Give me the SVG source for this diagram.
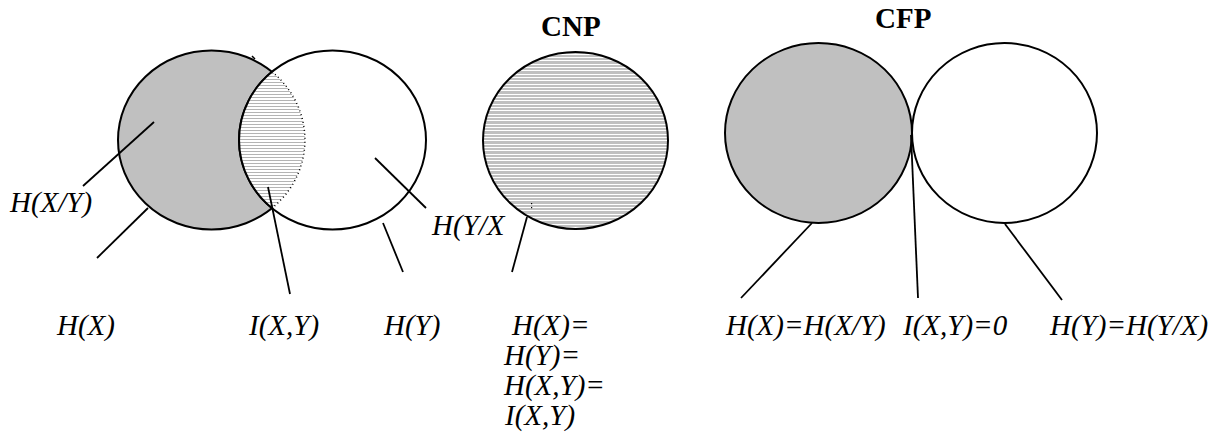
<svg xmlns="http://www.w3.org/2000/svg" width="1218" height="443" viewBox="0 0 1218 443">
<style>
.c{stroke:#000;stroke-width:2;}
.ln{stroke:#000;stroke-width:1.8;fill:none;}
.lb{font-family:"Liberation Serif","Times New Roman",serif;font-style:italic;font-size:29px;fill:#000;}
.tt{font-family:"Liberation Serif","Times New Roman",serif;font-weight:bold;font-size:29px;fill:#000;}
</style>
<defs>
<pattern id="hLens" patternUnits="userSpaceOnUse" width="20" height="3">
<rect x="0" y="0" width="20" height="3" fill="#fff"/>
<rect x="0" y="1" width="20" height="1" fill="#b4b4b4"/>
</pattern>
<pattern id="hCnp" patternUnits="userSpaceOnUse" width="20" height="10">
<rect x="0" y="0" width="20" height="10" fill="#c0c0c0"/>
<rect x="0" y="0" width="20" height="1" fill="#fff"/>
<rect x="0" y="4" width="20" height="1" fill="#fff"/>
<rect x="0" y="7" width="20" height="1" fill="#fff"/>
</pattern>
</defs>

<g id="venn-xy">
<ellipse class="c" cx="211.5" cy="140" rx="93.5" ry="89.5" fill="#c0c0c0"/>
<ellipse class="c" cx="332.5" cy="140" rx="93.5" ry="89.5" fill="#fff"/>
<path d="M272,71.8 A93.5,89.5 0 0,1 272,208.2 A93.5,89.5 0 0,1 272,71.8 Z" fill="url(#hLens)"/>
<path d="M272,71.8 A93.5,89.5 0 0,1 272,208.2" fill="none" stroke="#000" stroke-width="1.5" stroke-dasharray="1 3"/>
<path d="M272,208.2 A93.5,89.5 0 0,1 272,71.8" fill="none" stroke="#000" stroke-width="2"/>
<line x1="252" y1="56" x2="255" y2="59" stroke="#000" stroke-width="1.5"/>
</g>

<g id="cnp">
<text class="tt" x="541" y="36">CNP</text>
<ellipse class="c" cx="575.5" cy="140.5" rx="92.5" ry="88.5" fill="url(#hCnp)"/>
<rect x="531" y="203" width="1.2" height="1.2" fill="#000"/>
<rect x="531" y="207" width="1.2" height="1.2" fill="#000"/>
</g>

<g id="cfp">
<text class="tt" x="875" y="28">CFP</text>
<ellipse class="c" cx="818.5" cy="133" rx="93.5" ry="90" fill="#c0c0c0"/>
<ellipse class="c" cx="1004.5" cy="133" rx="92.5" ry="90" fill="#fff"/>
</g>

<g id="connectors">
<line class="ln" x1="154" y1="122" x2="83" y2="186"/>
<line class="ln" x1="148" y1="208" x2="97" y2="258"/>
<line class="ln" x1="268" y1="187" x2="290" y2="294"/>
<line class="ln" x1="375" y1="158" x2="426" y2="208"/>
<line class="ln" x1="383" y1="223" x2="403" y2="272"/>
<line class="ln" x1="527" y1="217" x2="512" y2="272"/>
<line class="ln" x1="812" y1="223" x2="741" y2="298"/>
<line class="ln" x1="911" y1="135" x2="918" y2="298"/>
<line class="ln" x1="1005" y1="224" x2="1062" y2="300"/>
</g>

<g id="labels">
<text class="lb" x="10" y="212">H(X/Y)</text>
<text class="lb" x="432" y="235">H(Y/X</text>
<text class="lb" x="57" y="335">H(X)</text>
<text class="lb" x="249" y="335">I(X,Y)</text>
<text class="lb" x="384" y="335">H(Y)</text>
<text class="lb" x="512" y="335">H(X)=</text>
<text class="lb" x="504" y="365">H(Y)=</text>
<text class="lb" x="504" y="395">H(X,Y)=</text>
<text class="lb" x="505" y="425">I(X,Y)</text>
<text class="lb" x="726" y="335">H(X)=H(X/Y)</text>
<text class="lb" x="903" y="335">I(X,Y)=0</text>
<text class="lb" x="1050" y="335">H(Y)=H(Y/X)</text>
</g>
</svg>
